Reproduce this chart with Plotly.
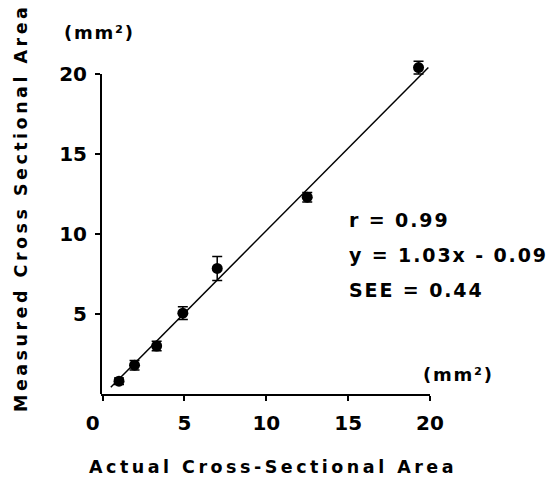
import plotly.graph_objects as go

# Data
actual = [1.0, 1.95, 3.3, 4.9, 7.0, 12.5, 19.3]
measured = [0.8, 1.8, 3.0, 5.05, 7.85, 12.3, 20.4]
err = [0.2, 0.3, 0.3, 0.4, 0.75, 0.3, 0.4]
fit_x = [0.5, 19.9]
slope, intercept = 1.03, -0.09
fit_y = [slope * v + intercept for v in fit_x]
x_ticks = [0, 5, 10, 15, 20]
x_ticktext = ["0\u2002\u2002", "5", "10", "15", "20"]
y_ticks = [5, 10, 15, 20]
stats = ["r = 0.99", "y = 1.03x - 0.09", "SEE = 0.44"]
x_title = "Actual Cross-Sectional Area"
y_title = "Measured Cross Sectional Area"
unit = "(mm²)"

FONT = "DejaVu Sans"
BF = dict(family=FONT, size=20, color="black", weight="bold")


def spaced(s, sep="\u2009"):
    return sep.join(s)


fig = go.Figure()
fig.add_trace(go.Scatter(x=fit_x, y=fit_y, mode="lines",
                         line=dict(color="black", width=1.5), showlegend=False))
fig.add_trace(go.Scatter(x=actual, y=measured, mode="markers",
                         marker=dict(color="black", size=11),
                         error_y=dict(type="data", array=err, color="black",
                                      thickness=1.5, width=5),
                         showlegend=False, cliponaxis=False))

fig.update_layout(
    width=559, height=480,
    margin=dict(l=101, r=129, t=58, b=86),
    paper_bgcolor="white", plot_bgcolor="white",
    xaxis=dict(range=[-0.1, 20], tickvals=x_ticks, ticktext=x_ticktext,
               showgrid=False, zeroline=False, showline=True, linecolor="black",
               linewidth=2, ticks="outside", ticklen=5, tickwidth=1.5,
               tickcolor="black", tickfont=BF, ticklabelstandoff=5),
    yaxis=dict(range=[0, 21], tickvals=y_ticks, ticktext=[str(v) for v in y_ticks],
               showgrid=False, zeroline=False, showline=False,
               ticks="outside", ticklen=5, tickwidth=1.5, tickcolor="black",
               tickfont=BF, ticklabelstandoff=4),
)

# y axis line from 0 to 20 only
fig.add_shape(type="line", xref="paper", yref="y", x0=0, x1=0, y0=0, y1=20,
              line=dict(color="black", width=2))

TF = dict(family=FONT, size=17.5, color="black", weight="bold")
UF = dict(family=FONT, size=18, color="black", weight="bold")


def px(x, y):
    return (x - 101) / 329, (480 - 86 - y) / 336


annots = [
    (spaced(x_title), 271, 467, TF),
    (spaced(unit, "\u200a"), 98, 32, UF),
    (spaced(unit, "\u200a"), 457, 374, UF),
]
for text, ax, ay, f in annots:
    xx, yy = px(ax, ay)
    fig.add_annotation(text=text, xref="paper", yref="paper", x=xx, y=yy,
                       showarrow=False, font=f, xanchor="center", yanchor="middle")

xx, yy = px(21, 210)
fig.add_annotation(text=spaced(y_title), xref="paper", yref="paper",
                   x=xx, y=yy, textangle=-90,
                   showarrow=False, font=TF, xanchor="center", yanchor="middle")

for i, s in enumerate(stats):
    xx, yy = px(347, 220 + 35 * i)
    fig.add_annotation(text=spaced(s, "\u200a"), xref="paper", yref="paper", x=xx, y=yy,
                       showarrow=False, font=dict(family=FONT, size=19, color="black", weight="bold"),
                       xanchor="left", yanchor="middle")

fig.write_html("out.html")
